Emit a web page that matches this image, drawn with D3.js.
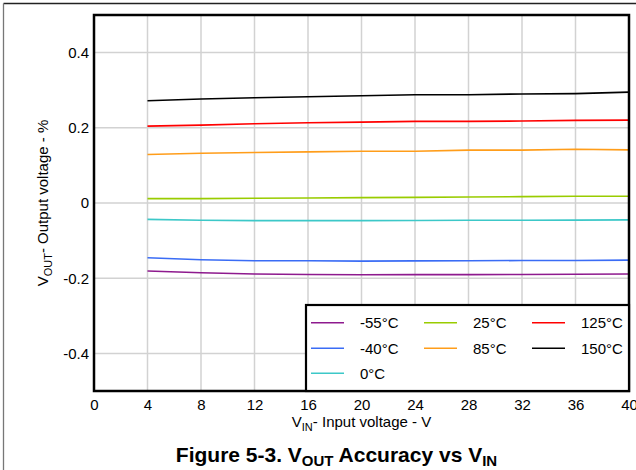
<!DOCTYPE html>
<html>
<head>
<meta charset="utf-8">
<script src="https://cdn.jsdelivr.net/npm/d3@7/dist/d3.min.js"></script>
<style>
  html, body { margin: 0; padding: 0; background: #fff; }
  svg { display: block; font-family: "Liberation Sans", Arial, sans-serif; }
</style>
</head>
<body>
<svg id="chart" width="636" height="470"></svg>
<script>
// Input voltage sample points (V)
const vin = [4, 8, 12, 16, 20, 24, 28, 32, 36, 40];

// Output voltage accuracy (%) per temperature
const accM55 = [-0.181, -0.1857, -0.189, -0.190, -0.191, -0.1905, -0.1905, -0.190, -0.1895, -0.189];
const accM40 = [-0.1457, -0.151, -0.1537, -0.1537, -0.1545, -0.154, -0.1535, -0.153, -0.153, -0.152];
const acc0   = [-0.0435, -0.046, -0.047, -0.047, -0.047, -0.0465, -0.046, -0.046, -0.0455, -0.045];
const acc25  = [0.0117, 0.0117, 0.0125, 0.0133, 0.0142, 0.015, 0.016, 0.017, 0.0178, 0.0178];
const acc85  = [0.129, 0.1325, 0.1344, 0.136, 0.1378, 0.1378, 0.1405, 0.1405, 0.143, 0.1413];
const acc125 = [0.2045, 0.207, 0.2107, 0.2133, 0.2152, 0.217, 0.217, 0.218, 0.2197, 0.2205];
const acc150 = [0.272, 0.2765, 0.280, 0.2827, 0.2853, 0.288, 0.288, 0.290, 0.291, 0.295];

const seriesNames = ["-55°C", "-40°C", "0°C", "25°C", "85°C", "125°C", "150°C"];
const seriesColors = ["#8e1a8e", "#3a6cf5", "#3cc8c8", "#99cc00", "#ff9d1a", "#ff0000", "#000000"];
const seriesValues = [accM55, accM40, acc0, acc25, acc85, acc125, acc150];
// legend slot (column, row) for each series
const legendCol = [0, 0, 0, 1, 1, 2, 2];
const legendRow = [0, 1, 2, 0, 1, 0, 1];

const xTicks = [0, 4, 8, 12, 16, 20, 24, 28, 32, 36, 40];
const yTicks = [-0.4, -0.2, 0, 0.2, 0.4];
const yTickLabels = ["-0.4", "-0.2", "0", "0.2", "0.4"];

const svg = d3.select("#chart");
const plot = { left: 94, right: 629, top: 15, bottom: 391 };

const x = d3.scaleLinear().domain([0, 40]).range([plot.left, plot.right]);
const y = d3.scaleLinear().domain([-0.5, 0.5]).range([plot.bottom, plot.top]);

// outer figure frame (top and left edges)
svg.append("line").attr("x1", 3.5).attr("x2", 636).attr("y1", 3.5).attr("y2", 3.5)
  .attr("stroke", "#222").attr("stroke-width", 1.3);
svg.append("line").attr("x1", 3.5).attr("x2", 3.5).attr("y1", 3.5).attr("y2", 470)
  .attr("stroke", "#777").attr("stroke-width", 1.3);

// grid
const grid = svg.append("g").attr("stroke", "#d2d2d2").attr("stroke-width", 1.5);
grid.selectAll("line.v").data(xTicks.slice(1, -1)).join("line")
  .attr("x1", d => x(d)).attr("x2", d => x(d))
  .attr("y1", plot.top).attr("y2", plot.bottom);
grid.selectAll("line.h").data(yTicks).join("line")
  .attr("x1", plot.left).attr("x2", plot.right)
  .attr("y1", d => y(d)).attr("y2", d => y(d));

// axes (labels only; ticks hidden)
const xAxis = d3.axisBottom(x).tickValues(xTicks).tickSize(0).tickPadding(8)
  .tickFormat(d3.format("d"));
svg.append("g").attr("transform", `translate(0,${plot.bottom})`).call(xAxis)
  .call(g => g.select(".domain").remove())
  .call(g => g.selectAll("text").attr("font-size", 15).attr("fill", "#000")
    .attr("font-family", "Liberation Sans, Arial, sans-serif"));

const yAxis = d3.axisLeft(y).tickValues(yTicks).tickSize(0).tickPadding(5)
  .tickFormat((d, i) => yTickLabels[i]);
svg.append("g").attr("transform", `translate(${plot.left},0)`).call(yAxis)
  .call(g => g.select(".domain").remove())
  .call(g => g.selectAll("text").attr("font-size", 15).attr("fill", "#000")
    .attr("font-family", "Liberation Sans, Arial, sans-serif"));

// data lines
const line = d3.line().x((d, i) => x(vin[i])).y(d => y(d));
svg.append("g").selectAll("path").data(seriesValues).join("path")
  .attr("d", line)
  .attr("fill", "none")
  .attr("stroke", (d, i) => seriesColors[i])
  .attr("stroke-width", 1.6);

// plot frame
svg.append("rect")
  .attr("x", plot.left).attr("y", plot.top)
  .attr("width", plot.right - plot.left).attr("height", plot.bottom - plot.top)
  .attr("fill", "none").attr("stroke", "#000").attr("stroke-width", 2.5);

// legend
const legend = { left: 306, top: 305, right: plot.right, bottom: plot.bottom };
svg.append("rect")
  .attr("x", legend.left).attr("y", legend.top)
  .attr("width", legend.right - legend.left).attr("height", legend.bottom - legend.top)
  .attr("fill", "#fff").attr("stroke", "#000").attr("stroke-width", 2.2);

const colX = [311, 424, 532];
const rowY = [322.7, 348.3, 373.3];
const items = svg.append("g").selectAll("g").data(seriesNames).join("g")
  .attr("transform", (d, i) => `translate(${colX[legendCol[i]]},${rowY[legendRow[i]]})`);
items.append("line").attr("x1", 0).attr("x2", 33).attr("y1", 0).attr("y2", 0)
  .attr("stroke", (d, i) => seriesColors[i]).attr("stroke-width", 1.6);
items.append("text").attr("x", 49).attr("y", 5.3)
  .attr("font-size", 15).attr("fill", "#000").text(d => d);

// axis titles
const xt = svg.append("text").attr("x", (plot.left + plot.right) / 2).attr("y", 427)
  .attr("text-anchor", "middle").attr("font-size", 15).attr("fill", "#000");
xt.append("tspan").text("V");
xt.append("tspan").attr("font-size", 11).attr("dy", 4).text("IN");
xt.append("tspan").attr("dy", -4).text("- Input voltage - V");

const yt = svg.append("text")
  .attr("transform", `translate(48,${(plot.top + plot.bottom) / 2}) rotate(-90)`)
  .attr("text-anchor", "middle").attr("font-size", 15).attr("fill", "#000");
yt.append("tspan").text("V");
yt.append("tspan").attr("font-size", 11).attr("dy", 4).text("OUT");
yt.append("tspan").attr("dy", -4).text("- Output voltage - %");

// figure caption
const cap = svg.append("text").attr("x", 336.5).attr("y", 462)
  .attr("text-anchor", "middle").attr("font-size", 21).attr("font-weight", "bold").attr("fill", "#000");
cap.append("tspan").text("Figure 5-3. V");
cap.append("tspan").attr("font-size", 15).attr("dy", 4).text("OUT");
cap.append("tspan").attr("dy", -4).text(" Accuracy vs V");
cap.append("tspan").attr("font-size", 15).attr("dy", 4).text("IN");
</script>
</body>
</html>
